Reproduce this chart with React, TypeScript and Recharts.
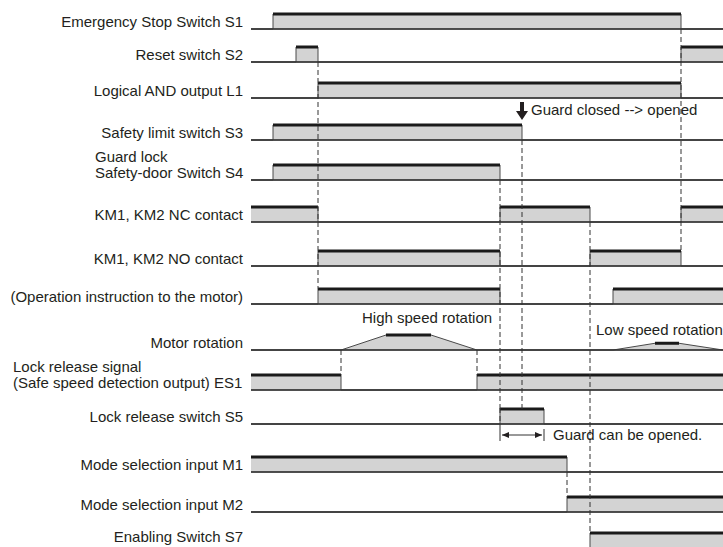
import { ComposedChart, Area, Line, XAxis, YAxis, ReferenceLine, ReferenceDot } from "recharts"

// time runs 0..472 (left edge of the traces to the right edge of the picture)
const T_END = 472

// high intervals of each signal [from, to]
const s1On = [[22, 430]]
const s2On = [[45, 67], [430, 472]]
const l1On = [[67, 430]]
const s3On = [[22, 271]]
const s4On = [[22, 249]]
const ncOn = [[0, 67], [249, 339], [430, 472]]
const noOn = [[67, 249], [339, 430]]
const opOn = [[67, 249], [362, 472]]
const es1On = [[0, 90], [226, 472]]
const s5On = [[249, 293]]
const m1On = [[0, 316]]
const m2On = [[316, 472]]
const s7On = [[339, 472]]
// motor speed, 1 = high speed
const motorSpeed = [[0, 0], [90, 0], [135, 1], [180, 1], [226, 0], [362, 0], [404, 0.45], [428, 0.45], [472, 0]]

const signalLabels = [
  ["Emergency Stop Switch S1"],
  ["Reset switch S2"],
  ["Logical AND output L1"],
  ["Safety limit switch S3"],
  ["Guard lock", "Safety-door Switch S4"],
  ["KM1, KM2 NC contact"],
  ["KM1, KM2 NO contact"],
  ["(Operation instruction to the motor)"],
  ["Motor rotation"],
  ["Lock release signal", "(Safe speed detection output) ES1"],
  ["Lock release switch S5"],
  ["Mode selection input M1"],
  ["Mode selection input M2"],
  ["Enabling Switch S7"],
]

// [time, signal row from, signal row to] for the dashed guide lines
const guides = [
  [67, 1, 7], [430, 0, 6], [249, 4, 10], [271, 3, 10], [339, 5, 13],
  [90, 8, 9], [226, 8, 9], [316, 11, 12],
]

// layout (pixel rows of the baselines)
const ROW_Y = [29, 62, 98, 140, 180, 222, 266, 304, 350, 390, 424, 472, 512, 548]
const PULSE = 15
const LABEL_LEFT: Record<number, number> = { 4: 95, 9: 13 }
const LABEL_LIFT: Record<number, number> = { 13: 4 }
const FONT = "'Liberation Sans', Arial, sans-serif"
const INK = "#231f20"

function toWave(on: number[][]) {
  const pts: number[][] = []
  let t = 0
  for (const [a, b] of on) {
    if (a > t) pts.push([t, 0], [a, 0])
    pts.push([a, 1], [b, 1])
    t = b
  }
  if (t < T_END) pts.push([t, 0], [T_END, 0])
  return pts
}

const waves = [
  toWave(s1On), toWave(s2On), toWave(l1On), toWave(s3On), toWave(s4On), toWave(ncOn), toWave(noOn),
  toWave(opOn), motorSpeed, toWave(es1On), toWave(s5On), toWave(m1On), toWave(m2On), toWave(s7On),
]

const areaData = waves.map((w, i) => w.map(([t, v]) => ({ t, r: [ROW_Y[i], ROW_Y[i] - v * PULSE] })))

// thick top edge only where the level holds
const topData = waves.map((w, i) => {
  const out: { t: number; y: number | null }[] = []
  for (let k = 0; k < w.length - 1; k++) {
    const [a, va] = w[k]
    const [b, vb] = w[k + 1]
    if (va > 0 && va === vb && b > a) {
      const y = ROW_Y[i] - va * PULSE
      out.push({ t: a, y }, { t: b, y }, { t: b, y: null })
    }
  }
  return out
})

function RowLabel(props: any) {
  const i = ROW_Y.indexOf(props.payload.value)
  if (i < 0) return null
  const lines = signalLabels[i]
  const left = LABEL_LEFT[i]
  const lift = 2 + (LABEL_LIFT[i] || 0)
  return (
    <text fontFamily={FONT} fontSize={15} fill={INK} textAnchor={left != null ? "start" : "end"}>
      {lines.map((s, k) => (
        <tspan key={k} x={left != null ? left : props.x} y={props.y - lift - 16 * (lines.length - 1 - k)}>{s}</tspan>
      ))}
    </text>
  )
}

const note = (text: string) => (p: any) => (
  <text x={p.cx} y={p.cy} fontFamily={FONT} fontSize={15} fill={INK}>{text}</text>
)

const downArrow = (p: any) => (
  <path d={`M${p.cx - 2} ${p.cy - 18} h4 v9 h4 l-6 9 l-6 -9 h4 z`} fill={INK} />
)

const head = (dir: number) => (p: any) => (
  <path d={`M${p.cx} ${p.cy} l${-7 * dir} -3 v6 z`} fill={INK} />
)

export default function App() {
  return (
    <div style={{ position: "absolute", left: 0, top: 0, background: "#fff" }}>
      <ComposedChart width={723} height={547} margin={{ top: 0, right: 0, bottom: 0, left: 0 }}>
        <XAxis dataKey="t" type="number" domain={[0, T_END]} allowDataOverflow hide />
        <YAxis type="number" domain={[0, 547]} reversed allowDataOverflow width={251} ticks={ROW_Y} interval={0}
          axisLine={false} tickLine={false} tickSize={6} tickMargin={2} tick={<RowLabel />} />
        {areaData.map((d, i) => (
          <Area key={"a" + i} data={d} dataKey="r" type="linear" stroke="#4a4a4a" strokeWidth={1} fill="#d3d3d3"
            fillOpacity={1} dot={false} activeDot={false} isAnimationActive={false} />
        ))}
        {ROW_Y.map((y) => (
          <ReferenceLine key={"b" + y} y={y} stroke="#333" strokeWidth={1.6} />
        ))}
        {topData.map((d, i) => (
          <Line key={"l" + i} data={d} dataKey="y" type="linear" stroke="#1a1a1a" strokeWidth={3} dot={false}
            activeDot={false} connectNulls={false} isAnimationActive={false} />
        ))}
        {guides.map(([t, a, b], i) => (
          <ReferenceLine key={"g" + i} segment={[{ x: t, y: ROW_Y[a] }, { x: t, y: ROW_Y[b] - PULSE }]}
            stroke="#333" strokeWidth={1} strokeDasharray="5 3" />
        ))}
        <ReferenceLine segment={[{ x: 249, y: 408 }, { x: 249, y: 430 }]} stroke="#333" strokeDasharray="5 3" />
        <ReferenceLine segment={[{ x: 249, y: 429 }, { x: 249, y: 441 }]} stroke="#333" />
        <ReferenceLine segment={[{ x: 293, y: 429 }, { x: 293, y: 441 }]} stroke="#333" />
        <ReferenceLine segment={[{ x: 251, y: 435 }, { x: 291, y: 435 }]} stroke="#333" />
        <ReferenceDot x={251} y={435} r={0} shape={head(-1)} />
        <ReferenceDot x={291} y={435} r={0} shape={head(1)} />
        <ReferenceDot x={271} y={120} r={0} shape={downArrow} />
        <ReferenceDot x={280} y={115} r={0} shape={note("Guard closed --> opened")} />
        <ReferenceDot x={111} y={323} r={0} shape={note("High speed rotation")} />
        <ReferenceDot x={345} y={335} r={0} shape={note("Low speed rotation")} />
        <ReferenceDot x={302} y={440} r={0} shape={note("Guard can be opened.")} />
      </ComposedChart>
    </div>
  )
}
